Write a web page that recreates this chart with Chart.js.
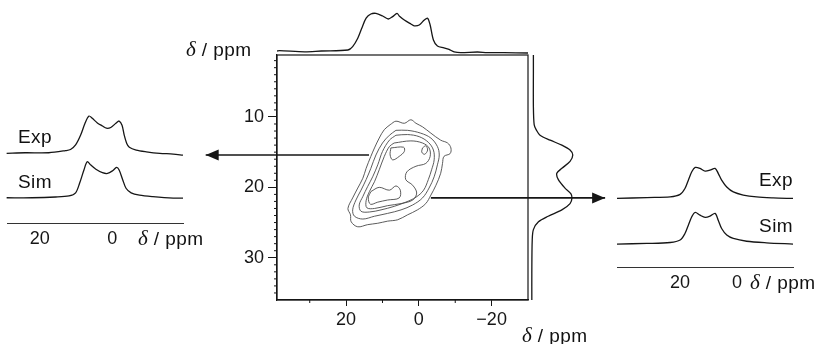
<!DOCTYPE html>
<html>
<head>
<meta charset="utf-8">
<script src="https://cdn.jsdelivr.net/npm/chart.js@4.4.1/dist/chart.umd.min.js"></script>
<style>
  body { margin: 0; background: #fff; }
  #wrap { position: relative; width: 825px; height: 344px; overflow: hidden; background: #fff;
          font-family: 'Liberation Sans', Arial, sans-serif; font-size: 19px; color: #111; }
  canvas { position: absolute; }
  .lbl { position: absolute; line-height: 1; white-space: nowrap; letter-spacing: 0.4px; }
  .d { font-family: 'Liberation Serif', serif; font-style: italic; font-size: 21px; }
</style>
</head>
<body>
<div id="wrap">
  <canvas id="main" width="825" height="344" style="left:0;top:0"></canvas>
  <canvas id="top" width="251" height="55" style="left:277px;top:0"></canvas>
  <canvas id="side" width="72" height="245" style="left:528px;top:55px"></canvas>
  <canvas id="left" width="230" height="160" style="left:0;top:100px"></canvas>
  <canvas id="right" width="225" height="160" style="left:600px;top:150px"></canvas>

  <span class="lbl" style="left:186px;top:39px"><span class="d">δ</span> / ppm</span>
  <span class="lbl" style="left:522px;top:325px"><span class="d">δ</span> / ppm</span>
  <span class="lbl" style="left:18px;top:127px">Exp</span>
  <span class="lbl" style="left:18px;top:172px">Sim</span>
  <span class="lbl" style="left:138px;top:228px"><span class="d">δ</span> / ppm</span>
  <span class="lbl" style="right:32px;top:170px">Exp</span>
  <span class="lbl" style="right:32px;top:216px">Sim</span>
  <span class="lbl" style="left:750px;top:272px"><span class="d">δ</span> / ppm</span>
</div>
<script>
// 2D contour levels, [F2 ppm, F1 ppm]
const contour1 = [[7.9,11.1],[6.3,10.6],[4.0,10.9],[2.2,10.4],[0.8,10.9],[-1.0,11.4],[-3.3,12.3],[-6.0,13.3],[-7.9,13.7],[-8.8,14.4],[-8.6,15.2],[-6.9,15.6],[-6.5,16.6],[-6.0,18.0],[-4.7,19.7],[-3.3,21.1],[-1.9,22.3],[0.4,23.2],[3.1,23.9],[5.8,24.6],[8.6,24.8],[11.3,25.1],[14.1,25.3],[16.8,25.6],[18.6,24.9],[18.8,23.9],[19.5,23.0],[18.2,21.5],[16.8,20.1],[15.4,18.7],[14.5,17.3],[13.2,15.6],[12.2,14.4],[10.9,13.0],[9.5,11.8],[7.9,11.1]];
const contour2 = [[6.3,11.9],[3.1,11.9],[-0.5,12.3],[-3.3,13.0],[-5.1,14.2],[-5.6,15.4],[-5.1,16.8],[-4.2,18.5],[-2.8,20.1],[-1.0,21.5],[1.7,22.5],[4.9,23.2],[8.6,23.7],[12.2,24.1],[15.4,24.5],[17.7,24.1],[18.2,23.2],[17.3,21.8],[15.9,20.4],[14.5,18.9],[13.2,17.3],[11.8,15.4],[10.0,13.7],[8.1,12.6],[6.3,11.9]];
const contour3 = [[6.3,12.6],[3.1,12.5],[-0.1,12.8],[-2.6,13.6],[-4.0,14.7],[-4.2,16.1],[-3.5,17.5],[-2.6,18.9],[-1.3,20.4],[0.8,21.4],[3.6,22.1],[6.8,22.7],[10.4,23.2],[13.6,23.5],[15.9,23.4],[16.4,22.5],[15.4,21.3],[14.1,19.9],[12.7,18.5],[11.3,16.8],[10.0,14.9],[8.1,13.3],[6.3,12.6]];
const contour4 = [[6.8,13.7],[2.2,13.4],[-1.0,13.7],[-2.8,14.4],[-3.1,15.6],[-1.9,16.6],[0.8,17.0],[3.3,17.8],[3.6,18.9],[1.7,19.7],[0.6,20.8],[1.7,21.8],[4.9,22.3],[8.6,22.6],[12.2,23.0],[14.3,22.9],[14.5,21.9],[13.6,20.6],[12.2,19.2],[10.9,17.5],[9.5,15.6],[8.1,14.2],[6.8,13.7]];
const contour5a = [[7.7,14.4],[4.2,14.3],[4.0,14.9],[5.4,15.6],[7.2,16.1],[7.9,15.4],[7.7,14.4]];
const contour5b = [[-1.0,14.4],[-1.9,14.1],[-2.4,14.7],[-1.6,15.3],[-0.8,15.0],[-1.0,14.4]];
const contour5c = [[13.2,20.6],[10.9,20.0],[8.1,20.4],[6.3,19.8],[5.1,20.4],[5.4,21.5],[8.6,21.8],[11.3,22.1],[13.3,22.4],[13.9,21.5],[13.2,20.6]];

// slice arrows (F2 ppm start, tip) at F1 ppm
const leftArrow = [[13.7,15.4],[58.6,15.4]];
const rightArrow = [[-3.3,21.5],[-51.2,21.5]];

// projection on top (F2)
const topPpm = [39,38.3,31.4,26.8,19.5,18.2,16.8,15.7,14.5,13.2,11.8,9.95,8.4,7.2,6.0,5.4,4.0,2.2,1.3,-0.1,-1.5,-2.4,-3.1,-4.0,-5.1,-6.9,-8.3,-9.7,-11.5,-16.1,-18.8,-23.4,-30];
const topInt = [0.05,0.06,0.03,0.05,0.075,0.16,0.37,0.62,0.87,0.975,0.99,0.925,0.85,0.91,0.99,0.925,0.825,0.725,0.68,0.70,0.825,0.87,0.70,0.325,0.175,0.13,0.09,0.03,0.01,0.025,0.01,0.01,0.0];

// projection on the right (F1)
const sidePpm = [1.2,3.8,8.5,11.1,11.8,12.6,13.3,14.0,14.7,15.4,16.3,17.3,18.0,18.9,20.1,20.9,21.5,22.3,23.2,24.1,24.9,26.0,27.5,32.2,36];
const sideInt = [0.01,0.01,0.01,0.03,0.08,0.18,0.44,0.74,0.95,1.02,0.95,0.74,0.61,0.65,0.82,0.97,1.0,0.95,0.74,0.39,0.14,0.01,-0.02,-0.03,-0.03];

// slice at 15 ppm
const leftExpPpm = [29.1,24.0,17.5,12.9,11.5,10.1,8.7,7.5,6.4,5.5,4.1,2.7,1.6,0.4,-1.0,-1.9,-2.7,-3.3,-4.0,-4.7,-6.6,-9.4,-13.1,-16.8,-19.5];
const leftExp = [0.02,0.035,0.035,0.09,0.12,0.24,0.5,0.81,1.0,0.94,0.82,0.74,0.68,0.70,0.81,0.87,0.76,0.5,0.28,0.18,0.105,0.06,0.02,0.0,-0.03];
const leftSimPpm = [29.1,22.1,15.6,11.9,10.1,9.0,7.8,6.9,5.9,4.5,2.7,1.3,-0.1,-1.2,-1.9,-2.9,-3.8,-5.2,-7.5,-11.2,-16.8,-19.5];
const leftSim = [-0.02,-0.02,0,0.03,0.11,0.36,0.71,0.93,0.84,0.73,0.64,0.62,0.69,0.78,0.71,0.45,0.23,0.11,0.05,0.01,-0.03,-0.03];

// slice at 21 ppm
const rightExpPpm = [42.2,31.7,23.5,20.0,18.3,17.1,15.9,14.7,13.0,11.2,9.5,7.7,6.6,5.4,3.6,1.3,-2.2,-6.9,-12.7,-19.7];
const rightExp = [0,0.03,0.05,0.13,0.32,0.59,0.86,1.0,0.97,0.88,0.91,0.97,0.81,0.59,0.37,0.21,0.11,0.05,0.02,0];
const rightSimPpm = [42.2,31.7,23.5,20.0,18.3,17.1,15.9,14.7,13.0,11.2,9.5,7.7,6.6,5.4,3.6,1.3,-3.4,-10.4,-19.7];
const rightSim = [-0.02,0,0.03,0.11,0.32,0.59,0.86,1.0,0.91,0.84,0.88,0.97,0.75,0.48,0.27,0.16,0.07,0.02,-0.02];

// ticks
const mainXTicks = [20, 0, -20];
const mainXMinor = [30, 10, -10];
const mainYTicks = [10, 20, 30];
const mainYMinor = [2,3,4,5,6,7,8,9,11,12,13,14,15,16,17,18,19,21,22,23,24,25,26,27,28,29,31,32,33,34,35];
const sliceTicks = [20, 0];

const INK = '#161616';
Chart.defaults.font.family = "'Liberation Sans', Arial, sans-serif";
Chart.defaults.font.size = 18;
Chart.defaults.color = INK;

const pairs = arr => arr.map(p => ({ x: p[0], y: p[1] }));
const zip = (xs, ys, off) => xs.map((x, i) => ({ x: x, y: ys[i] + (off || 0) }));
const minus = v => (v < 0 ? '\u2212' + Math.abs(v) : '' + v);
const noPlugins = { legend: { display: false }, tooltip: { enabled: false } };

function contourSet(arr) {
    return { data: pairs(arr), showLine: true, borderColor: '#4a4a4a', borderWidth: 0.9,
             pointRadius: 0, tension: 0.35, fill: false };
}

function arrowSet(arr) {
    return { data: pairs(arr), showLine: true, borderColor: INK, borderWidth: 1.6,
             pointRadius: 0, clip: false };
}

function specSet(data) {
    return { data: data, showLine: true, borderColor: INK, borderWidth: 1.3,
             pointRadius: 0, tension: 0.3, fill: false, clip: false };
}

// box frame, minor ticks and arrow heads for the 2D plot
const frame = {
    id: 'frame',
    afterDraw(chart) {
        const { ctx, chartArea: a, scales } = chart;
        ctx.save();
        ctx.strokeStyle = INK;
        ctx.lineWidth = 1.2;
        ctx.strokeRect(a.left, a.top, a.right - a.left, a.bottom - a.top);
        ctx.lineWidth = 1;
        ctx.beginPath();
        mainXMinor.forEach(v => {
            const px = scales.x.getPixelForValue(v);
            ctx.moveTo(px, a.bottom); ctx.lineTo(px, a.bottom + 3);
        });
        mainYMinor.forEach(v => {
            const py = scales.y.getPixelForValue(v);
            ctx.moveTo(a.left - 3, py); ctx.lineTo(a.left, py);
        });
        ctx.stroke();

        ctx.fillStyle = INK;
        [leftArrow, rightArrow].forEach(arr => {
            const p0 = arr[arr.length - 2], p1 = arr[arr.length - 1];
            const x0 = scales.x.getPixelForValue(p0[0]);
            const x1 = scales.x.getPixelForValue(p1[0]);
            const y1 = scales.y.getPixelForValue(p1[1]);
            const dir = Math.sign(x1 - x0);
            ctx.beginPath();
            ctx.moveTo(x1, y1);
            ctx.lineTo(x1 - dir * 13, y1 - 5.5);
            ctx.lineTo(x1 - dir * 13, y1 + 5.5);
            ctx.closePath();
            ctx.fill();
        });
        ctx.restore();
    }
};

new Chart(document.getElementById('main'), {
    type: 'scatter',
    data: {
        datasets: [contour1, contour2, contour3, contour4, contour5a, contour5b, contour5c].map(contourSet)
            .concat([arrowSet(leftArrow), arrowSet(rightArrow)])
    },
    options: {
        responsive: false,
        animation: false,
        layout: { padding: { left: 237, right: 297, top: 55, bottom: 14 } },
        plugins: noPlugins,
        scales: {
            x: {
                type: 'linear', reverse: true, min: -30, max: 39,
                afterBuildTicks: a => { a.ticks = mainXTicks.map(v => ({ value: v })); },
                afterFit: a => { a.height = 30; },
                grid: { drawOnChartArea: false, tickLength: 6, color: INK },
                border: { color: INK, width: 1.2 },
                ticks: { padding: 3, callback: v => minus(v) }
            },
            y: {
                type: 'linear', reverse: true, min: 1.2, max: 36,
                afterBuildTicks: a => { a.ticks = mainYTicks.map(v => ({ value: v })); },
                afterFit: a => { a.width = 40; },
                grid: { drawOnChartArea: false, tickLength: 9, color: INK },
                border: { color: INK, width: 1.2 },
                ticks: { padding: 4 }
            }
        }
    },
    plugins: [frame]
});

// top projection
new Chart(document.getElementById('top'), {
    type: 'scatter',
    data: { datasets: [specSet(zip(topPpm, topInt))] },
    options: {
        responsive: false, animation: false,
        layout: { padding: { left: 0, right: 0, top: 13, bottom: 2 } },
        plugins: noPlugins,
        scales: {
            x: { display: false, type: 'linear', reverse: true, min: -30, max: 39 },
            y: { display: false, min: 0, max: 1 }
        }
    }
});

// right projection
new Chart(document.getElementById('side'), {
    type: 'scatter',
    data: { datasets: [specSet(sideInt.map((v, i) => ({ x: v, y: sidePpm[i] })))] },
    options: {
        responsive: false, animation: false,
        layout: { padding: { left: 5, right: 28, top: 0, bottom: 0 } },
        plugins: noPlugins,
        scales: {
            x: { display: false, min: 0, max: 1 },
            y: { display: false, type: 'linear', reverse: true, min: 1.2, max: 36 }
        }
    }
});

function sliceChart(id, sets, xr, yr, pad) {
    return new Chart(document.getElementById(id), {
        type: 'scatter',
        data: { datasets: sets.map(specSet) },
        options: {
            responsive: false, animation: false,
            layout: { padding: pad },
            plugins: noPlugins,
            scales: {
                x: {
                    type: 'linear', reverse: true, min: xr[0], max: xr[1],
                    afterBuildTicks: a => { a.ticks = sliceTicks.map(v => ({ value: v })); },
                    afterFit: a => { a.height = 30; },
                    grid: { display: false, drawTicks: false },
                    border: { display: true, color: '#333', width: 1, dash: [1, 1.5] },
                    ticks: { padding: 5 }
                },
                y: { display: false, min: yr[0], max: yr[1] }
            }
        }
    });
}

sliceChart('left',
    [zip(leftExpPpm, leftExp, 1.13), zip(leftSimPpm, leftSim)],
    [-19.5, 29], [-0.684, 2.316],
    { left: 7, right: 47, top: 9, bottom: 7 });

sliceChart('right',
    [zip(rightExpPpm, rightExp, 1.45), zip(rightSimPpm, rightSim)],
    [-19.7, 42.2], [-0.76, 2.69],
    { left: 17, right: 32, top: 10, bottom: 13 });
</script>
</body>
</html>
